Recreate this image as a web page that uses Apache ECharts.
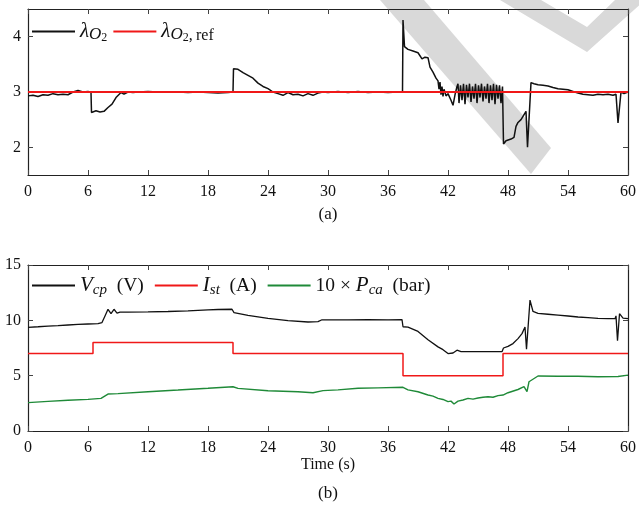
<!DOCTYPE html>
<html>
<head>
<meta charset="utf-8">
<script src="https://cdn.jsdelivr.net/npm/echarts@6/dist/echarts.min.js"></script>
<style>
  html, body { margin: 0; padding: 0; background: #fff; }
  #chart { width: 639px; height: 508px; }
</style>
</head>
<body>
<div id="chart"></div>
<script>
// ---- panel (a): oxygen excess ratio ----
const lamT = [0, 0.5, 1, 1.5, 2, 2.5, 3, 3.5, 4, 4.5, 5, 5.5, 6, 6.3, 6.35, 6.8, 7.2, 7.6, 8, 8.4, 8.8, 9, 9.3, 9.6,
  10, 10.5, 11, 12, 13, 14, 15, 16, 17, 18, 19, 20, 20.5, 20.55, 21, 21.5, 22, 22.5, 23, 23.5, 24, 24.5,
  25, 25.5, 26, 26.5, 27, 27.5, 28, 28.5, 29, 29.5, 30, 31, 32, 33, 34, 35, 36, 37, 37.45, 37.5, 37.65,
  38, 38.5, 39, 39.4, 39.7, 40, 40.2, 40.5, 40.8, 41, 41.1, 41.2, 41.3, 41.4, 41.5, 41.6, 41.8, 42, 42.3,
  42.5, 42.7, 42.9, 43.0, 43.1, 43.25, 43.4, 43.55, 43.7, 43.85, 44.0, 44.15, 44.3, 44.45, 44.6, 44.75,
  44.9, 45.05, 45.2, 45.35, 45.5, 45.65, 45.8, 45.95, 46.1, 46.25, 46.4, 46.55, 46.7, 46.85, 47.0, 47.15,
  47.3, 47.45, 47.55, 47.8, 48, 48.3, 48.6, 48.8, 49, 49.3, 49.5, 49.8, 49.95, 50.3, 50.6, 51, 51.5, 52,
  52.5, 53, 53.5, 54, 54.5, 55, 55.5, 56, 56.5, 57, 57.5, 58, 58.5, 58.8, 59.0, 59.3, 59.6, 60];
const lamV = [2.93, 2.94, 2.92, 2.95, 2.94, 2.97, 2.95, 2.96, 2.95, 3.00, 3.03, 3.00, 3.01, 2.99, 2.63, 2.66, 2.64, 2.65, 2.72, 2.78, 2.90, 2.92, 2.99, 2.96,
  3.00, 2.99, 3.00, 3.01, 3.00, 3.00, 3.00, 2.99, 3.00, 2.99, 2.98, 2.99, 3.00, 3.42, 3.41, 3.35, 3.30, 3.25, 3.16, 3.10, 3.06, 3.00,
  2.97, 2.94, 2.99, 2.95, 2.96, 2.93, 2.97, 2.94, 2.98, 3.00, 2.99, 3.01, 2.99, 3.01, 2.99, 3.00, 2.99, 3.00, 3.01, 4.30, 3.82,
  3.77, 3.74, 3.71, 3.60, 3.63, 3.62, 3.45, 3.36, 3.25, 3.20, 3.05, 3.18, 2.95, 3.10, 2.92, 3.05, 2.93, 2.97, 2.85,
  2.76, 2.95, 3.10, 3.15, 2.80, 3.12, 2.85, 3.15, 2.78, 3.13, 2.90, 3.15, 2.82, 3.10, 2.88, 3.15,
  2.80, 3.12, 2.90, 3.15, 2.83, 3.10, 2.88, 3.15, 2.80, 3.12, 2.85, 3.15, 2.78, 3.13, 2.88, 3.12,
  2.80, 3.10, 2.06, 2.12, 2.10, 2.15, 2.18, 2.38, 2.45, 2.50, 2.56, 2.65, 2.00, 3.17, 3.15, 3.13, 3.12, 3.11,
  3.08, 3.06, 3.05, 3.04, 3.01, 2.98, 2.96, 2.95, 2.94, 2.96, 2.95, 2.96, 2.94, 2.96, 2.44, 3.00, 2.97, 3.00];
const refT = [0, 60];
const refV = [3, 3];

// ---- panel (b): compressor voltage, stack current, cathode pressure ----
const vcpT = [0, 1, 2, 3, 4, 5, 6, 7, 7.4, 7.7, 8.0, 8.3, 8.6, 8.9, 9.2, 10, 12, 14, 16, 18, 19, 20.4, 20.6, 22, 24, 26,
  28, 29, 29.4, 30, 32, 34, 36, 37.4, 37.5, 38, 39, 40, 41, 41.5, 42, 42.5, 42.9, 43.3, 45, 47.4, 47.55, 48,
  48.5, 49, 49.4, 49.7, 49.85, 50.2, 50.5, 51, 52, 53, 54, 55, 56, 57, 58, 58.7, 58.8, 58.95, 59.15, 59.5, 60];
const vcpV = [9.37, 9.42, 9.48, 9.52, 9.58, 9.63, 9.67, 9.70, 9.80, 10.40, 11.00, 10.60, 11.00, 10.65, 10.75, 10.75, 10.77, 10.80, 10.85, 10.95, 10.98, 11.00, 10.70, 10.45, 10.18, 9.98,
  9.85, 9.88, 10.05, 10.05, 10.05, 10.07, 10.05, 10.07, 9.42, 9.38, 9.00, 8.25, 7.60, 7.35, 7.00, 7.05, 7.30, 7.18, 7.17, 7.17, 7.50, 7.65,
  7.90, 8.35, 8.80, 9.40, 7.40, 11.83, 10.80, 10.63, 10.55, 10.47, 10.39, 10.30, 10.25, 10.18, 10.15, 10.15, 10.40, 8.16, 10.60, 10.20, 10.15];
const istT = [0, 6.5, 6.5, 20.5, 20.5, 37.5, 37.5, 47.5, 47.5, 60];
const istV = [7, 7, 8, 8, 7, 7, 5, 5, 7, 7];
const pcaT = [0, 2, 4, 6, 7.3, 8, 9, 12, 15, 18, 20.5, 21, 24, 27, 28.5, 29.5, 31, 33, 35, 37.5, 38, 39, 40, 40.5, 41,
  41.5, 42, 42.3, 42.6, 43, 43.5, 44, 44.5, 45, 45.5, 46, 46.5, 47, 47.5, 48, 49, 49.6, 49.9, 50.1, 51, 53, 55, 57, 59, 60];
const pcaV = [2.56, 2.68, 2.78, 2.86, 2.95, 3.34, 3.38, 3.55, 3.70, 3.86, 4.00, 3.85, 3.64, 3.55, 3.46, 3.65, 3.72, 3.86, 3.90, 3.95, 3.72, 3.55, 3.25, 3.15, 2.95,
  2.85, 2.65, 2.70, 2.44, 2.70, 2.80, 2.95, 2.88, 2.98, 3.05, 3.10, 3.05, 3.20, 3.25, 3.46, 3.75, 4.00, 3.55, 4.45, 4.97, 4.95, 4.95, 4.90, 4.92, 5.05];

const yTicksA = [2, 3, 4];

const FONT = '"Liberation Serif", "Times New Roman", serif';
const INK = '#111';
const RED = '#f01818';
const GREEN = '#1f8a38';
const zip = (t, v) => t.map((x, i) => [x, v[i]]);

// rich styles for the math-like legend labels
const richA = {
  i:  { fontFamily: FONT, fontSize: 21, fontStyle: 'italic', lineHeight: 24, color: INK },
  s:  { fontFamily: FONT, fontSize: 17, fontStyle: 'italic', lineHeight: 10, verticalAlign: 'bottom', color: INK },
  ss: { fontFamily: FONT, fontSize: 12, lineHeight: 2, verticalAlign: 'bottom', color: INK },
  sr: { fontFamily: FONT, fontSize: 16, lineHeight: 10, verticalAlign: 'bottom', color: INK }
};
const richB = {
  n:  { fontFamily: FONT, fontSize: 19.5, lineHeight: 24, color: INK },
  i:  { fontFamily: FONT, fontSize: 21, fontStyle: 'italic', lineHeight: 24, color: INK },
  s:  { fontFamily: FONT, fontSize: 15, fontStyle: 'italic', lineHeight: 9, verticalAlign: 'bottom', color: INK }
};
const legendText = {
  'λO2': '{i|λ}{s|O}{ss|2}',
  'λO2,ref': '{i|λ}{s|O}{ss|2}{sr|,\u2009ref}',
  'Vcp (V)': '{i|V}{s|cp}{n|  (V)}',
  'Ist (A)': '{i|I}{s|st}{n|  (A)}',
  '10×Pca (bar)': '{n|10 × }{i|P}{s|ca}{n|  (bar)}'
};

const axisLine = { show: true, onZero: false, lineStyle: { color: '#222', width: 1.2 } };
const tick = { show: true, inside: true, length: 5, lineStyle: { color: '#444', width: 1 } };
const label = { fontFamily: FONT, fontSize: 16, color: INK };

function xAxes(grid, withName) {
  const base = { type: 'value', gridIndex: grid, min: 0, max: 60, interval: 6,
    axisLine, axisTick: tick, splitLine: { show: false } };
  const bottom = Object.assign({}, base, { position: 'bottom',
    axisLabel: Object.assign({ margin: 9 }, label) });
  if (withName) {
    Object.assign(bottom, { name: 'Time (s)', nameLocation: 'middle', nameGap: 24,
      nameTextStyle: { fontFamily: FONT, fontSize: 16, color: INK } });
  }
  const top = Object.assign({}, base, { position: 'top', axisLabel: { show: false } });
  return [bottom, top];
}

function yAxes(grid, range) {
  const base = { type: 'value', gridIndex: grid, min: range.min, max: range.max,
    axisLine, splitLine: { show: false } };
  const ticks = range.custom
    ? Object.assign({ customValues: range.custom }, tick)
    : tick;
  const left = Object.assign({}, base, { position: 'left', axisTick: ticks,
    axisLabel: Object.assign({ margin: 7 }, label, range.custom ? { customValues: range.custom } : {}) });
  if (range.interval) left.interval = range.interval;
  const right = Object.assign({}, base, { position: 'right', axisTick: ticks, axisLabel: { show: false } });
  if (range.interval) right.interval = range.interval;
  return [left, right];
}

const legendBase = { padding: 0, itemWidth: 43, itemHeight: 1.8, icon: 'rect',
  formatter: n => legendText[n] };

const chart = echarts.init(document.getElementById('chart'), null, { renderer: 'canvas' });

chart.setOption({
  animation: false,
  backgroundColor: '#fff',
  grid: [
    { left: 28, right: 11, top: 9, height: 166 },
    { left: 28, right: 11, top: 265, height: 166 }
  ],
  xAxis: [...xAxes(0, false), ...xAxes(1, true)],
  yAxis: [...yAxes(0, { min: 1.5, max: 4.5, custom: yTicksA }), ...yAxes(1, { min: 0, max: 15, interval: 5 })],
  legend: [
    Object.assign({ left: 32, top: 21, itemGap: 6, data: ['λO2', 'λO2,ref'], textStyle: { rich: richA } }, legendBase),
    Object.assign({ left: 32, top: 275, itemGap: 11, data: ['Vcp (V)', 'Ist (A)', '10×Pca (bar)'], textStyle: { rich: richB } }, legendBase)
  ],
  graphic: {
    elements: [
      // light grey diagonal watermark strokes behind the curves
      { type: 'polygon', z: -10, silent: true,
        shape: { points: [[380, 0], [424, 0], [551, 148], [531, 174]] },
        style: { fill: '#d9d9d9' } },
      { type: 'polygon', z: -10, silent: true,
        shape: { points: [[500, 0], [541, 0], [587, 27], [615, 0], [645, 0], [587, 52]] },
        style: { fill: '#d9d9d9' } },
      { type: 'text', x: 328, y: 215,
        style: { text: '(a)', align: 'center', verticalAlign: 'middle', font: '17px ' + FONT, fill: INK } },
      { type: 'text', x: 328, y: 494,
        style: { text: '(b)', align: 'center', verticalAlign: 'middle', font: '17px ' + FONT, fill: INK } }
    ]
  },
  series: [
    { name: 'λO2', type: 'line', xAxisIndex: 0, yAxisIndex: 0, data: zip(lamT, lamV),
      symbol: 'none', z: 3, lineStyle: { color: INK, width: 1.5 }, itemStyle: { color: INK } },
    { name: 'λO2,ref', type: 'line', xAxisIndex: 0, yAxisIndex: 0, data: zip(refT, refV),
      symbol: 'none', z: 4, lineStyle: { color: RED, width: 1.9 }, itemStyle: { color: RED } },
    { name: 'Vcp (V)', type: 'line', xAxisIndex: 2, yAxisIndex: 2, data: zip(vcpT, vcpV),
      symbol: 'none', z: 3, lineStyle: { color: INK, width: 1.3 }, itemStyle: { color: INK } },
    { name: 'Ist (A)', type: 'line', xAxisIndex: 2, yAxisIndex: 2, data: zip(istT, istV),
      symbol: 'none', z: 4, lineStyle: { color: RED, width: 1.5 }, itemStyle: { color: RED } },
    { name: '10×Pca (bar)', type: 'line', xAxisIndex: 2, yAxisIndex: 2, data: zip(pcaT, pcaV),
      symbol: 'none', z: 3, lineStyle: { color: GREEN, width: 1.4 }, itemStyle: { color: GREEN } }
  ]
});
</script>
</body>
</html>
